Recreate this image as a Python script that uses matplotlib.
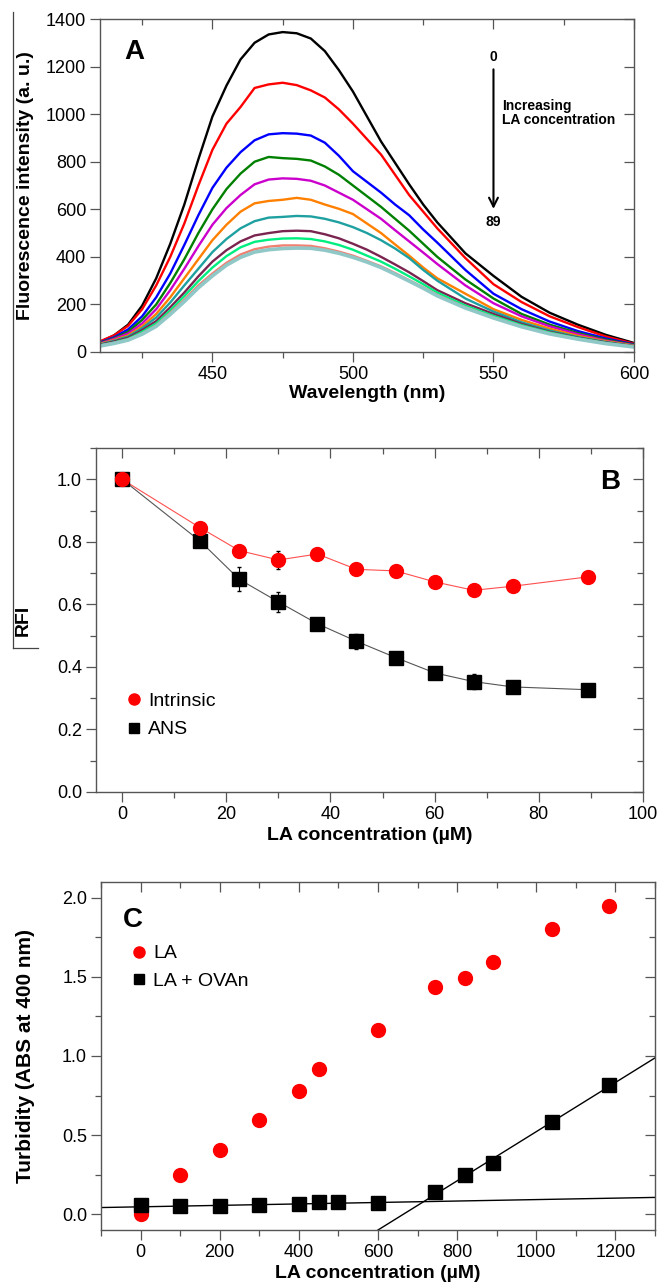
import numpy as np
import matplotlib
matplotlib.use("Agg")
import matplotlib.pyplot as plt
from matplotlib.lines import Line2D
from matplotlib.ticker import MultipleLocator, FormatStrFormatter

plt.rcParams['font.family'] = ['Liberation Sans Narrow', 'Liberation Sans', 'DejaVu Sans']

# ---- panel A: emission spectra (a. u.) at increasing LA concentration ----
wavelength = [410, 415, 420, 425, 430, 435, 440, 445, 450, 455, 460, 465, 470, 475,
              480, 485, 490, 495, 500, 505, 510, 515, 520, 525, 530,
              540, 550, 560, 570, 580, 590, 600]
spectra = {
    "black":   [42, 70, 115, 195, 310, 455, 620, 810, 990, 1120, 1230, 1300, 1335, 1345,
                1340, 1318, 1265, 1185, 1095, 990, 885, 795, 705, 620, 545,
                415, 320, 232, 165, 115, 72, 38],
    "#ff0000": [45, 70, 110, 180, 280, 400, 540, 700, 850, 960, 1030, 1110, 1125, 1132,
                1122, 1100, 1070, 1020, 960, 895, 830, 745, 660, 590, 520,
                395, 285, 210, 150, 105, 65, 35],
    "#0000ff": [40, 62, 95, 150, 230, 330, 450, 575, 690, 775, 840, 890, 915, 920,
                918, 910, 880, 825, 760, 715, 670, 620, 575, 515, 460,
                345, 245, 180, 128, 88, 57, 32],
    "#008000": [38, 58, 85, 135, 200, 290, 390, 500, 600, 685, 750, 800, 820, 815,
                812, 805, 780, 745, 700, 655, 610, 560, 510, 455, 400,
                305, 225, 160, 115, 80, 52, 30],
    "#cc00cc": [36, 55, 78, 120, 180, 260, 350, 445, 535, 605, 660, 705, 725, 730,
                728, 720, 700, 670, 640, 600, 560, 512, 465, 418, 370,
                280, 205, 150, 108, 75, 48, 28],
    "#ff8000": [34, 50, 70, 108, 160, 230, 310, 390, 470, 535, 590, 625, 635, 640,
                648, 640, 620, 602, 580, 540, 500, 452, 405, 355, 310,
                245, 180, 135, 98, 68, 45, 27],
    "#1fa0a0": [32, 47, 65, 100, 145, 208, 280, 350, 420, 475, 520, 550, 565, 568,
                572, 570, 560, 545, 525, 500, 470, 435, 395, 345, 300,
                225, 170, 125, 90, 63, 42, 25],
    "#7a2450": [30, 44, 60, 92, 130, 188, 250, 318, 380, 428, 465, 490, 500, 508,
                510, 508, 495, 478, 455, 430, 400, 368, 335, 298, 260,
                205, 160, 118, 85, 60, 40, 24],
    "#00ee80": [28, 40, 55, 85, 120, 175, 235, 298, 355, 403, 440, 463, 472, 477,
                478, 475, 465, 450, 430, 405, 380, 350, 318, 285, 250,
                195, 152, 113, 82, 58, 38, 23],
    "#f08070": [27, 38, 52, 78, 112, 165, 220, 280, 330, 375, 410, 432, 443, 448,
                448, 446, 436, 422, 405, 383, 360, 332, 302, 272, 240,
                188, 146, 108, 78, 55, 36, 22],
    "#90c8c8": [25, 36, 50, 75, 108, 158, 212, 270, 320, 365, 398, 420, 430, 435,
                437, 436, 428, 415, 398, 378, 355, 327, 298, 268, 236,
                185, 143, 106, 76, 54, 35, 21],
}

# ---- panel B: relative fluorescence intensity ----
conc_b = [0, 15, 22.5, 30, 37.5, 45, 52.5, 60, 67.5, 75, 89.5]
rfi_intrinsic = [1.0, 0.845, 0.772, 0.742, 0.761, 0.712, 0.707, 0.672, 0.645, 0.658, 0.688]
err_intrinsic = [0.005, 0.01, 0.01, 0.028, 0.01, 0.01, 0.01, 0.01, 0.01, 0.01, 0.01]
rfi_ans = [1.0, 0.802, 0.680, 0.608, 0.538, 0.482, 0.430, 0.381, 0.353, 0.336, 0.327]
err_ans = [0.005, 0.01, 0.038, 0.032, 0.01, 0.024, 0.01, 0.01, 0.025, 0.01, 0.01]

# ---- panel C: turbidity ----
conc_la = [0, 100, 200, 300, 400, 450, 600, 745, 820, 890, 1040, 1185]
turb_la = [0.0, 0.247, 0.405, 0.596, 0.781, 0.917, 1.162, 1.434, 1.491, 1.595, 1.80, 1.948]
conc_ova = [0, 100, 200, 300, 400, 450, 500, 600, 745, 820, 890, 1040, 1185]
turb_ova = [0.057, 0.049, 0.049, 0.060, 0.064, 0.080, 0.074, 0.068, 0.141, 0.247, 0.325, 0.585, 0.817]
fit_flat_x = [-100, 1300]
fit_flat_y = [0.042, 0.106]
fit_steep_x = [600, 1300]
fit_steep_y = [-0.10, 0.988]

W, H = 659, 1283
fig = plt.figure(figsize=(W / 100, H / 100), dpi=100)
BOLD = ['Liberation Sans', 'DejaVu Sans']


def rect(l, r, t, b):
    return [l / W, 1 - b / H, (r - l) / W, (b - t) / H]


def style(ax, xmaj, xmin, ymaj, ymin):
    ax.xaxis.set_major_locator(MultipleLocator(xmaj))
    ax.yaxis.set_major_locator(MultipleLocator(ymaj))
    if xmin:
        ax.xaxis.set_minor_locator(MultipleLocator(xmin))
    if ymin:
        ax.yaxis.set_minor_locator(MultipleLocator(ymin))
    ax.tick_params(which='both', direction='out', top=False, right=False,
                   labelsize=13, color='#555555', width=0.9, pad=3)
    ax.tick_params(which='major', length=7)
    ax.tick_params(which='minor', length=4)
    for s in ax.spines.values():
        s.set_color('#555555')
        s.set_linewidth(1.0)
    # inward ticks on top / right
    sx = ax.secondary_xaxis('top')
    sx.xaxis.set_major_locator(MultipleLocator(xmaj))
    if xmin:
        sx.xaxis.set_minor_locator(MultipleLocator(xmin))
    sx.tick_params(which='both', direction='in', labeltop=False, color='#555555', width=0.9)
    sx.tick_params(which='major', length=7)
    sx.tick_params(which='minor', length=4)
    sx.spines['top'].set_visible(False)
    sy = ax.secondary_yaxis('right')
    sy.yaxis.set_major_locator(MultipleLocator(ymaj))
    if ymin:
        sy.yaxis.set_minor_locator(MultipleLocator(ymin))
    sy.tick_params(which='both', direction='in', labelright=False, color='#555555', width=0.9)
    sy.tick_params(which='major', length=7)
    sy.tick_params(which='minor', length=4)
    sy.spines['right'].set_visible(False)


def labels(ax, xl, yl, xsize, ysize, ypos):
    ax.set_xlabel(xl, fontsize=xsize, fontweight='bold', family=BOLD)
    ax.set_ylabel(yl, fontsize=ysize, fontweight='bold', family=BOLD)
    ax.xaxis.set_label_coords(0.5, -0.125)
    ax.yaxis.set_label_coords(ypos, 0.5)
    ax.xaxis.label.set_va('center')
    ax.yaxis.label.set_va('center')


# ================= A =================
axA = fig.add_axes(rect(100, 634, 19, 352))
for color, vals in spectra.items():
    lw = 2.6 if color == "#90c8c8" else 1.7
    axA.plot(wavelength, vals, color=color, lw=lw, solid_joinstyle='round')
axA.set_xlim(410, 600)
axA.set_ylim(0, 1400)
style(axA, 50, 25, 200, None)
labels(axA, "Wavelength (nm)", "Fluorescence intensity (a. u.)", 14, 14, -0.14)
axA.text(0.065, 0.9, "A", transform=axA.transAxes, fontsize=20, fontweight='bold',
         ha='center', va='center', family=BOLD)
axA.annotate("", xy=(550, 590), xytext=(550, 1200),
             arrowprops=dict(arrowstyle='->', color='black', lw=1.5, mutation_scale=16))
axA.text(550, 1240, "0", fontsize=10, fontweight='bold', ha='center', va='center')
axA.text(550, 545, "89", fontsize=10, fontweight='bold', ha='center', va='center')
axA.text(553, 1005, "Increasing\nLA concentration", fontsize=10, fontweight='bold',
         ha='left', va='center', linespacing=0.95)

# ================= B =================
axB = fig.add_axes(rect(96, 643, 448, 792))
axB.plot(conc_b, rfi_intrinsic, color='#ff5050', lw=0.8, zorder=2)
axB.plot(conc_b, rfi_ans, color='#555555', lw=0.8, zorder=2)
axB.errorbar(conc_b, rfi_ans, yerr=err_ans, fmt='s', color='black', ms=10,
             ecolor='black', elinewidth=0.8, capsize=1.5, zorder=3)
axB.errorbar(conc_b, rfi_intrinsic, yerr=err_intrinsic, fmt='o', color='#ff0000', ms=10,
             ecolor='black', elinewidth=0.8, capsize=1.5, zorder=4)
axB.set_xlim(-5, 100)
axB.set_ylim(0, 1.1)
style(axB, 20, 10, 0.2, 0.1)
axB.yaxis.set_major_formatter(FormatStrFormatter('%.1f'))
labels(axB, "LA concentration (\u00b5M)", "RFI", 14, 14, -0.133)
axB.text(0.94, 0.9, "B", transform=axB.transAxes, fontsize=20, fontweight='bold',
         ha='center', va='center', family=BOLD)
hB = [Line2D([], [], marker='o', ls='none', color='#ff0000', ms=8),
      Line2D([], [], marker='s', ls='none', color='black', ms=7)]
axB.legend(hB, ["Intrinsic", "ANS"], loc='lower left', bbox_to_anchor=(0.02, 0.105),
           frameon=False, fontsize=14, handletextpad=0.2, handlelength=1.0, labelspacing=0.55)

# ================= C =================
axC = fig.add_axes(rect(101, 655, 882, 1230))
axC.plot(fit_flat_x, fit_flat_y, color='black', lw=1.0, zorder=2)
axC.plot(fit_steep_x, fit_steep_y, color='black', lw=1.0, zorder=2)
axC.plot(conc_la, turb_la, 'o', color='#ff0000', ms=10, zorder=3)
axC.plot(conc_ova, turb_ova, 's', color='black', ms=10, zorder=3)
axC.set_xlim(-100, 1300)
axC.set_ylim(-0.1, 2.1)
style(axC, 200, 100, 0.5, 0.25)
axC.yaxis.set_major_formatter(FormatStrFormatter('%.1f'))
labels(axC, "LA concentration (\u00b5M)", "Turbidity (ABS at 400 nm)", 14, 15, -0.137)
axC.text(0.058, 0.89, "C", transform=axC.transAxes, fontsize=20, fontweight='bold',
         ha='center', va='center', family=BOLD)
hC = [Line2D([], [], marker='o', ls='none', color='#ff0000', ms=8),
      Line2D([], [], marker='s', ls='none', color='black', ms=7)]
axC.legend(hC, ["LA", "LA + OVAn"], loc='upper left', bbox_to_anchor=(0.02, 0.87),
           frameon=False, fontsize=14, handletextpad=0.2, handlelength=1.0, labelspacing=0.5)

# stray bracket line at the left edge of the original figure
fig.add_artist(Line2D([13 / W, 13 / W], [1 - 12 / H, 1 - 648 / H], color='#444444', lw=0.9))
fig.add_artist(Line2D([13 / W, 38 / W], [1 - 648 / H, 1 - 648 / H], color='#444444', lw=0.9))

fig.savefig("out.png", dpi=100)
